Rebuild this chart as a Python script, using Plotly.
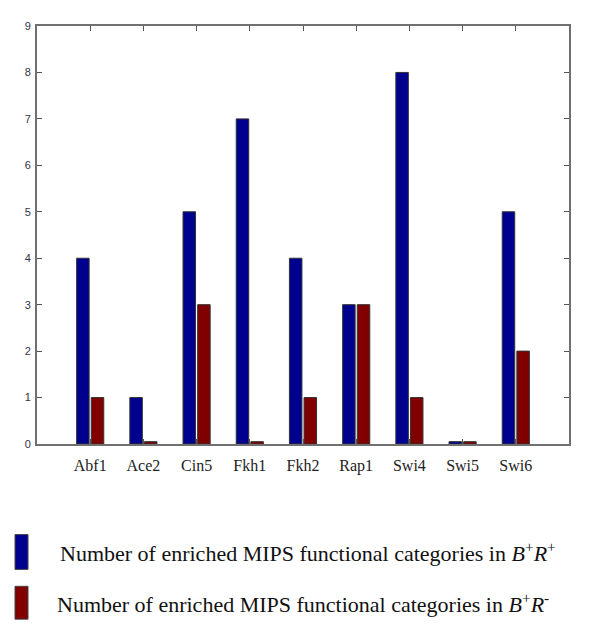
import plotly.graph_objects as go

categories = ["Abf1", "Ace2", "Cin5", "Fkh1", "Fkh2", "Rap1", "Swi4", "Swi5", "Swi6"]
b_plus_r_plus = [4, 1, 5, 7, 4, 3, 8, 0.05, 5]
b_plus_r_minus = [1, 0.05, 3, 0.05, 1, 3, 1, 0.05, 2]
y_ticks = [0, 1, 2, 3, 4, 5, 6, 7, 8, 9]
legend_labels = [
    "Number of enriched MIPS functional categories in <i>B</i><sup>+</sup><i>R</i><sup>+</sup>",
    "Number of enriched MIPS functional categories in <i>B</i><sup>+</sup><i>R</i><sup>-</sup>",
]
colors = ["#00008F", "#800000"]

xpos = list(range(1, len(categories) + 1))

fig = go.Figure()
fig.add_trace(go.Bar(x=xpos, y=b_plus_r_plus, width=0.235, offset=-0.255,
                     marker=dict(color=colors[0], line=dict(color="#333333", width=1)),
                     showlegend=False))
fig.add_trace(go.Bar(x=xpos, y=b_plus_r_minus, width=0.235, offset=0.02,
                     marker=dict(color=colors[1], line=dict(color="#333333", width=1)),
                     showlegend=False))

axis_common = dict(showline=True, linecolor="#707070", linewidth=2, mirror="ticks",
                   ticks="inside", ticklen=5, tickcolor="#555555", tickwidth=1,
                   showgrid=False, zeroline=False)

fig.update_xaxes(range=[0, 10], tickmode="array", tickvals=xpos, ticktext=categories,
                 tickfont=dict(family="Liberation Serif", size=16, color="#222222"),
                 ticklabelstandoff=6, **axis_common)
fig.update_yaxes(range=[0, 9], tickmode="array", tickvals=y_ticks,
                 tickfont=dict(family="Liberation Sans", size=11, color="#333344"),
                 ticklabelstandoff=2, **axis_common)

# legend (outside plot area), drawn as swatches + text
# page coordinates (body has 8px default margin)
sw_y = [(535, 570), (587, 620)]
txt_y = [553, 604]
txt_x = [58, 55]
for i in range(2):
    y0, y1 = sw_y[i]
    fig.add_shape(type="rect", xref="paper", yref="paper",
                  x0=(15 - 37) / 532, x1=(28 - 37) / 532,
                  y0=(444 - y1) / 420, y1=(444 - y0) / 420,
                  fillcolor=colors[i], line=dict(color="#444444", width=1))
    fig.add_annotation(xref="paper", yref="paper", x=(txt_x[i] - 37) / 532,
                       y=(444 - txt_y[i]) / 420, xanchor="left", yanchor="middle",
                       text=legend_labels[i], showarrow=False,
                       font=dict(family="Liberation Serif", size=22, color="#111111"))

fig.update_layout(width=592, height=624, margin=dict(l=29, r=31, t=16, b=188),
                  plot_bgcolor="white", paper_bgcolor="white", barmode="overlay")

fig.write_html("out.html")
